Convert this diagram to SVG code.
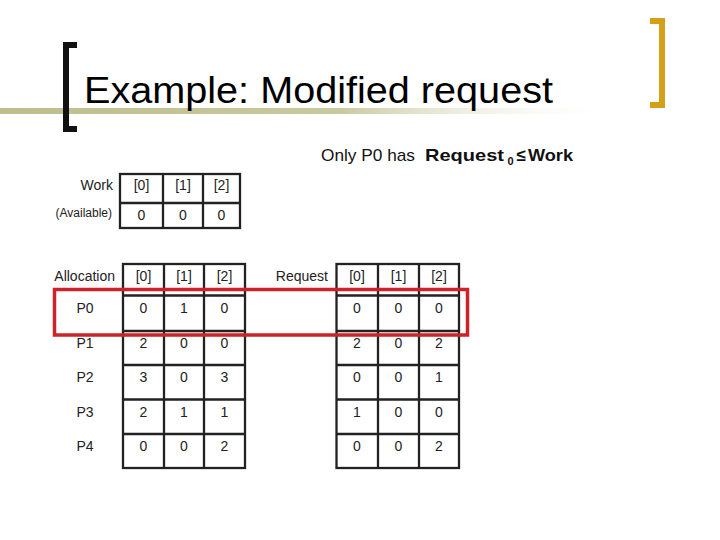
<svg xmlns="http://www.w3.org/2000/svg" width="720" height="540" viewBox="0 0 720 540">
  <defs>
    <linearGradient id="olive" x1="0" y1="0" x2="1" y2="0">
      <stop offset="0" stop-color="#bdbe8c"/>
      <stop offset="0.55" stop-color="#c9c9a0"/>
      <stop offset="1" stop-color="#ffffff" stop-opacity="0"/>
    </linearGradient>
    <style>
      text { font-family: "Liberation Sans", Arial, sans-serif; fill: #222; }
      .cell { font-size: 14px; text-anchor: middle; }
      .lbl { font-size: 14px; }
      .grid { fill: none; stroke: #222; stroke-width: 2.3; }
      .bold { font-weight: bold; }
    </style>
  </defs>
  <rect width="720" height="540" fill="#ffffff"/>

  <g id="title">
    <rect x="0" y="108" width="620" height="6" fill="url(#olive)"/>
    <path d="M77,45 H66 V129 H77" fill="none" stroke="#111" stroke-width="6"/>
    <path d="M650,21 H662 V105 H650" fill="none" stroke="#d4a017" stroke-width="6"/>
    <text x="84" y="103" font-size="37" textLength="469" lengthAdjust="spacingAndGlyphs" style="fill:#000">Example: Modified request</text>
  </g>

  <g id="subtitle">
    <text y="161" font-size="17" style="fill:#111"><tspan x="321" textLength="94" lengthAdjust="spacingAndGlyphs">Only P0 has</tspan><tspan x="425" class="bold" textLength="79" lengthAdjust="spacingAndGlyphs">Request</tspan><tspan x="507.5" y="165" class="bold" font-size="11">0</tspan><tspan x="516.5" y="161" class="bold">≤</tspan><tspan x="528" class="bold" textLength="45" lengthAdjust="spacingAndGlyphs">Work</tspan></text>
  </g>

  <g id="work-table">
    <text class="lbl" x="113" y="190" text-anchor="end">Work</text>
    <text x="112" y="217" font-size="12" text-anchor="end">(Available)</text>
    <rect class="grid" x="120" y="174" width="120" height="54"/>
    <path class="grid" d="M163,174 V228 M203,174 V228 M120,203 H240"/>
    <text class="cell" x="141.5" y="190">[0]</text>
    <text class="cell" x="183" y="190">[1]</text>
    <text class="cell" x="221.5" y="190">[2]</text>
    <text class="cell" x="141.5" y="220">0</text>
    <text class="cell" x="183" y="220">0</text>
    <text class="cell" x="221.5" y="220">0</text>
  </g>

  <g id="allocation-table">
    <text class="lbl" x="115" y="281" text-anchor="end">Allocation</text>
    <rect class="grid" x="123" y="264" width="122" height="204"/>
    <path class="grid" d="M164,264 V468 M204,264 V468 M123,295.5 H245 M123,331 H245 M123,365 H245 M123,399.5 H245 M123,434 H245"/>
    <text class="cell" x="143.5" y="281">[0]</text>
    <text class="cell" x="184" y="281">[1]</text>
    <text class="cell" x="224.5" y="281">[2]</text>
    <text class="cell" x="85" y="313">P0</text>
    <text class="cell" x="85" y="348">P1</text>
    <text class="cell" x="85" y="382">P2</text>
    <text class="cell" x="85" y="417">P3</text>
    <text class="cell" x="85" y="451">P4</text>
    <text class="cell" x="143.5" y="313">0</text><text class="cell" x="184" y="313">1</text><text class="cell" x="224.5" y="313">0</text>
    <text class="cell" x="143.5" y="348">2</text><text class="cell" x="184" y="348">0</text><text class="cell" x="224.5" y="348">0</text>
    <text class="cell" x="143.5" y="382">3</text><text class="cell" x="184" y="382">0</text><text class="cell" x="224.5" y="382">3</text>
    <text class="cell" x="143.5" y="417">2</text><text class="cell" x="184" y="417">1</text><text class="cell" x="224.5" y="417">1</text>
    <text class="cell" x="143.5" y="451">0</text><text class="cell" x="184" y="451">0</text><text class="cell" x="224.5" y="451">2</text>
  </g>

  <g id="request-table">
    <text class="lbl" x="328" y="281" text-anchor="end">Request</text>
    <rect class="grid" x="336.5" y="264" width="122.5" height="204"/>
    <path class="grid" d="M378,264 V468 M419,264 V468 M336.5,295.5 H459 M336.5,331 H459 M336.5,365 H459 M336.5,399.5 H459 M336.5,434 H459"/>
    <text class="cell" x="357" y="281">[0]</text>
    <text class="cell" x="398.5" y="281">[1]</text>
    <text class="cell" x="439" y="281">[2]</text>
    <text class="cell" x="357" y="313">0</text><text class="cell" x="398.5" y="313">0</text><text class="cell" x="439" y="313">0</text>
    <text class="cell" x="357" y="348">2</text><text class="cell" x="398.5" y="348">0</text><text class="cell" x="439" y="348">2</text>
    <text class="cell" x="357" y="382">0</text><text class="cell" x="398.5" y="382">0</text><text class="cell" x="439" y="382">1</text>
    <text class="cell" x="357" y="417">1</text><text class="cell" x="398.5" y="417">0</text><text class="cell" x="439" y="417">0</text>
    <text class="cell" x="357" y="451">0</text><text class="cell" x="398.5" y="451">0</text><text class="cell" x="439" y="451">2</text>
  </g>

  <g id="highlight">
    <rect x="54.5" y="289.5" width="413" height="45.5" fill="none" stroke="#cc2229" stroke-width="3.5"/>
  </g>
</svg>
